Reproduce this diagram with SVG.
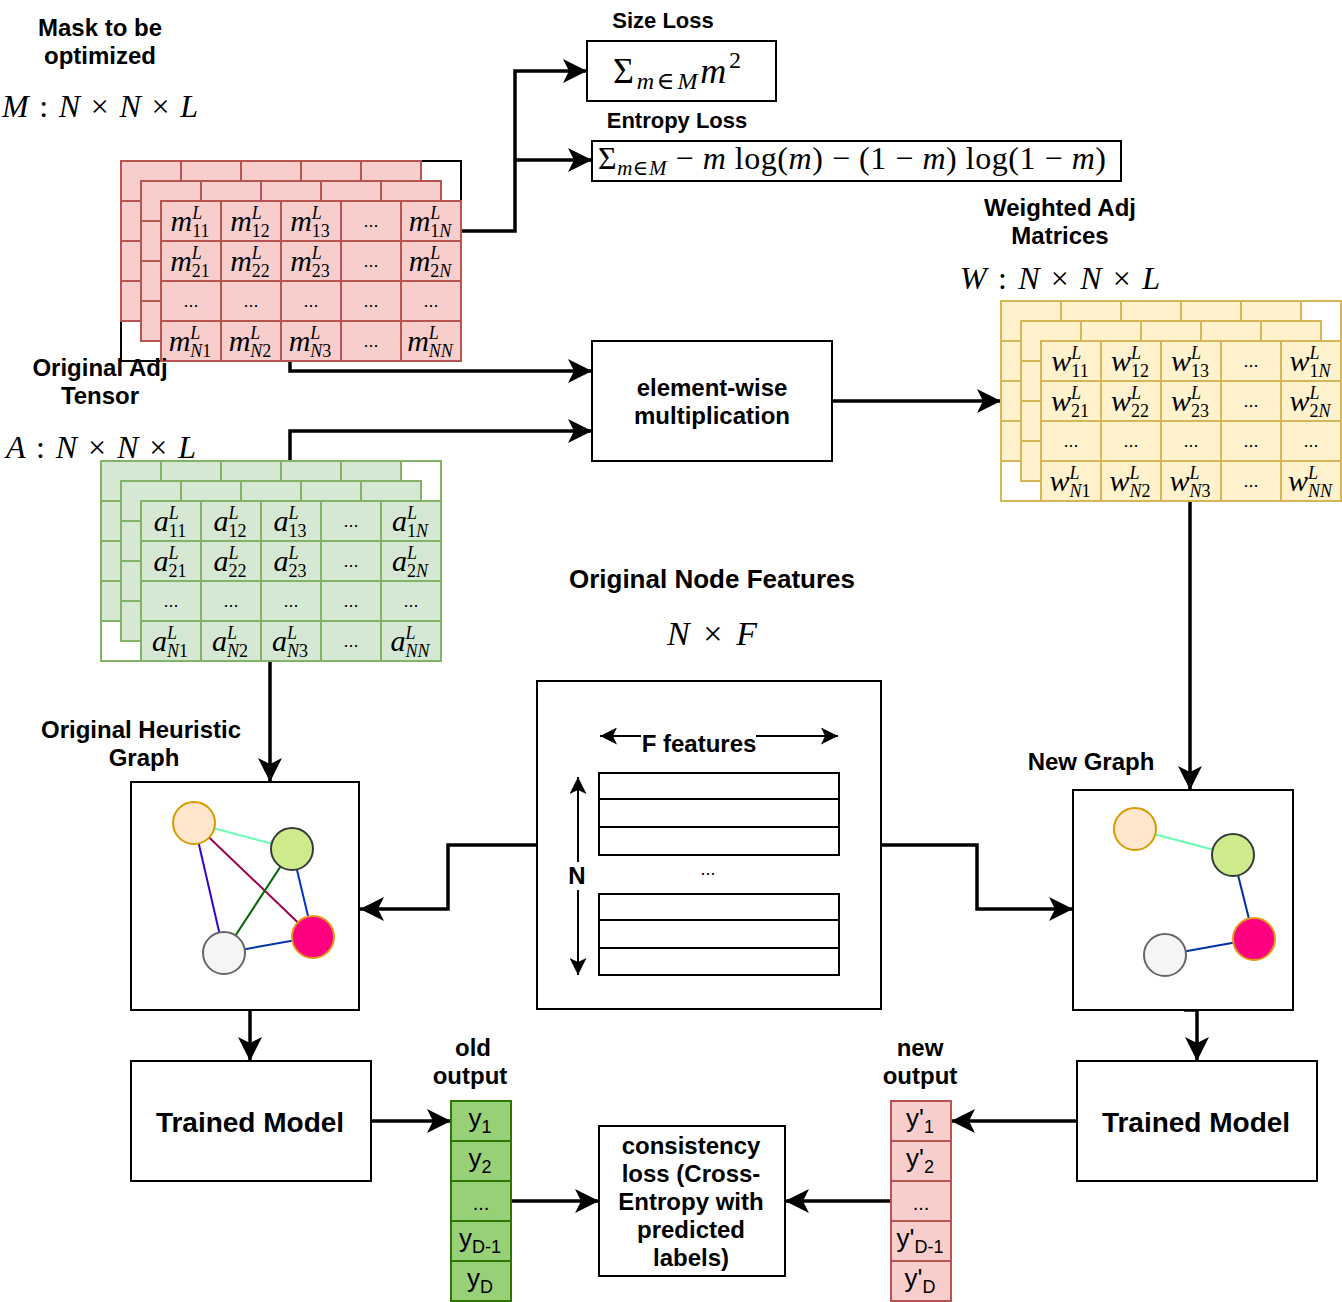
<svg xmlns="http://www.w3.org/2000/svg" xmlns:xlink="http://www.w3.org/1999/xlink" width="1342" height="1302" viewBox="0 0 1342 1302">
<style>
.lbl{font-family:"Liberation Sans",Arial,sans-serif;font-weight:bold;font-size:24px;text-anchor:middle;fill:#000}
.mi{font-family:"Liberation Serif","DejaVu Serif",serif;font-style:italic;font-size:30px;text-anchor:middle;fill:#000}
.mt{font-family:"Liberation Serif","DejaVu Serif",serif;font-style:italic;font-size:32px;fill:#000}
.up{font-style:normal}
.sp{font-size:18px}
.sb{font-size:18px;font-style:normal}
.dots{font-family:"Liberation Sans",Arial,sans-serif;font-size:18px;text-anchor:middle;fill:#000}
.box{fill:#fff;stroke:#000;stroke-width:2}
.conn{fill:none;stroke:#000;stroke-width:3.5}
.thin{fill:none;stroke:#000;stroke-width:2}
.out{font-family:"Liberation Sans",Arial,sans-serif;font-size:26px;text-anchor:middle;fill:#000}
.os{font-size:18px}
.edge{stroke-width:2;fill:none}
.nd{stroke-width:2}
</style>
<defs>
<g id="grid">
<rect x="0" y="0" width="300" height="160"/>
<path d="M60,0V160M120,0V160M180,0V160M240,0V160M0,40H300M0,80H300M0,120H300" fill="none"/>
</g>
<marker id="ah" markerUnits="userSpaceOnUse" markerWidth="24" markerHeight="24" refX="24" refY="12" orient="auto">
<path d="M0,0 L24,12 L0,24 L6,12 Z" fill="#000"/>
</marker>
<marker id="ahs" markerUnits="userSpaceOnUse" markerWidth="17" markerHeight="17" refX="17" refY="8.5" orient="auto">
<path d="M0,0 L17,8.5 L0,17 L4,8.5 Z" fill="#000"/>
</marker>
</defs>

<!-- connectors -->
<g id="connectors">
<path class="conn" d="M461,231 H515 V71 H587" marker-end="url(#ah)"/>
<path class="conn" d="M515,160 H592" marker-end="url(#ah)"/>
<path class="conn" d="M290,361 V371 H592" marker-end="url(#ah)"/>
<path class="conn" d="M290,461 V431 H592" marker-end="url(#ah)"/>
<path class="conn" d="M832,401 H1001" marker-end="url(#ah)"/>
<path class="conn" d="M1190,501 V790" marker-end="url(#ah)"/>
<path class="conn" d="M270,661 V782" marker-end="url(#ah)"/>
<path class="conn" d="M537,845 H448 V909 H360" marker-end="url(#ah)"/>
<path class="conn" d="M881,845 H977 V909 H1073" marker-end="url(#ah)"/>
<path class="conn" d="M250,1010 V1061" marker-end="url(#ah)"/>
<path class="conn" d="M1184,1010 H1197 V1061" marker-end="url(#ah)"/>
<path class="conn" d="M371,1121 H451" marker-end="url(#ah)"/>
<path class="conn" d="M1077,1121 H951" marker-end="url(#ah)"/>
<path class="conn" d="M511,1201 H599" marker-end="url(#ah)"/>
<path class="conn" d="M891,1201 H785" marker-end="url(#ah)"/>
</g>

<!-- Mask -->
<g id="mask">
<text class="lbl" x="100" y="36">Mask to be</text>
<text class="lbl" x="100" y="64">optimized</text>
<text class="mt" x="2" y="117" textLength="196" lengthAdjust="spacing">M <tspan class="up">:</tspan> N <tspan class="up">×</tspan> N <tspan class="up">×</tspan> L</text>
<rect x="121" y="161" width="340" height="200" fill="#fff" stroke="#000" stroke-width="2"/>
<use xlink:href="#grid" x="121" y="161" fill="#f8cecc" stroke="#b85450" stroke-width="2"/>
<use xlink:href="#grid" x="141" y="181" fill="#f8cecc" stroke="#b85450" stroke-width="2"/>
<use xlink:href="#grid" x="161" y="201" fill="#f8cecc" stroke="#b85450" stroke-width="2"/>
<text class="mi" x="190" y="231">m<tspan class="sp" dy="-12">L</tspan><tspan class="sb" dx="-10" dy="18">11</tspan></text>
<text class="mi" x="250" y="231">m<tspan class="sp" dy="-12">L</tspan><tspan class="sb" dx="-10" dy="18">12</tspan></text>
<text class="mi" x="310" y="231">m<tspan class="sp" dy="-12">L</tspan><tspan class="sb" dx="-10" dy="18">13</tspan></text>
<text class="dots" x="371" y="227">...</text>
<text class="mi" x="430" y="231">m<tspan class="sp" dy="-12">L</tspan><tspan class="sb" dx="-10" dy="18">1</tspan><tspan class="sp">N</tspan></text>
<text class="mi" x="190" y="271">m<tspan class="sp" dy="-12">L</tspan><tspan class="sb" dx="-10" dy="18">21</tspan></text>
<text class="mi" x="250" y="271">m<tspan class="sp" dy="-12">L</tspan><tspan class="sb" dx="-10" dy="18">22</tspan></text>
<text class="mi" x="310" y="271">m<tspan class="sp" dy="-12">L</tspan><tspan class="sb" dx="-10" dy="18">23</tspan></text>
<text class="dots" x="371" y="267">...</text>
<text class="mi" x="430" y="271">m<tspan class="sp" dy="-12">L</tspan><tspan class="sb" dx="-10" dy="18">2</tspan><tspan class="sp">N</tspan></text>
<text class="dots" x="191" y="307">...</text>
<text class="dots" x="251" y="307">...</text>
<text class="dots" x="311" y="307">...</text>
<text class="dots" x="371" y="307">...</text>
<text class="dots" x="431" y="307">...</text>
<text class="mi" x="190" y="351">m<tspan class="sp" dy="-12">L</tspan><tspan class="sp" dx="-10" dy="18">N</tspan><tspan class="sb">1</tspan></text>
<text class="mi" x="250" y="351">m<tspan class="sp" dy="-12">L</tspan><tspan class="sp" dx="-10" dy="18">N</tspan><tspan class="sb">2</tspan></text>
<text class="mi" x="310" y="351">m<tspan class="sp" dy="-12">L</tspan><tspan class="sp" dx="-10" dy="18">N</tspan><tspan class="sb">3</tspan></text>
<text class="dots" x="371" y="347">...</text>
<text class="mi" x="430" y="351">m<tspan class="sp" dy="-12">L</tspan><tspan class="sp" dx="-10" dy="18">NN</tspan></text>
</g>

<!-- Loss boxes -->
<g id="size-loss">
<text class="lbl" x="663" y="28" style="font-size:22px">Size Loss</text>
<rect class="box" x="587" y="41" width="189" height="60"/>
<text class="mt" x="613" y="83" style="font-size:36px" textLength="128" lengthAdjust="spacing"><tspan class="up">Σ</tspan><tspan style="font-size:24px" dy="6">m<tspan class="up">∈</tspan>M</tspan><tspan dy="-6">m</tspan><tspan class="up" style="font-size:24px" dy="-15">2</tspan></text>
</g>
<g id="entropy-loss">
<text class="lbl" x="677" y="128" style="font-size:22px">Entropy Loss</text>
<rect class="box" x="592" y="141" width="529" height="40"/>
<text class="mt" x="598" y="169" textLength="508" lengthAdjust="spacing"><tspan class="up">Σ</tspan><tspan style="font-size:21px" dy="6">m<tspan class="up">∈</tspan>M</tspan><tspan class="up" dy="-6"> − </tspan>m<tspan class="up"> log(</tspan>m<tspan class="up">) − (1 − </tspan>m<tspan class="up">) log(1 − </tspan>m<tspan class="up">)</tspan></text>
</g>

<!-- Original Adj Tensor -->
<g id="adj">
<text class="lbl" x="100" y="376">Original Adj</text>
<text class="lbl" x="100" y="404">Tensor</text>
<text class="mt" x="6" y="458" textLength="190" lengthAdjust="spacing">A <tspan class="up">:</tspan> N <tspan class="up">×</tspan> N <tspan class="up">×</tspan> L</text>
<rect x="101" y="461" width="340" height="200" fill="#fff" stroke="#82b366" stroke-width="2"/>
<use xlink:href="#grid" x="101" y="461" fill="#d5e8d4" stroke="#82b366" stroke-width="2"/>
<use xlink:href="#grid" x="121" y="481" fill="#d5e8d4" stroke="#82b366" stroke-width="2"/>
<use xlink:href="#grid" x="141" y="501" fill="#d5e8d4" stroke="#82b366" stroke-width="2"/>
<text class="mi" x="170" y="531">a<tspan class="sp" dy="-12">L</tspan><tspan class="sb" dx="-10" dy="18">11</tspan></text>
<text class="mi" x="230" y="531">a<tspan class="sp" dy="-12">L</tspan><tspan class="sb" dx="-10" dy="18">12</tspan></text>
<text class="mi" x="290" y="531">a<tspan class="sp" dy="-12">L</tspan><tspan class="sb" dx="-10" dy="18">13</tspan></text>
<text class="dots" x="351" y="527">...</text>
<text class="mi" x="410" y="531">a<tspan class="sp" dy="-12">L</tspan><tspan class="sb" dx="-10" dy="18">1</tspan><tspan class="sp">N</tspan></text>
<text class="mi" x="170" y="571">a<tspan class="sp" dy="-12">L</tspan><tspan class="sb" dx="-10" dy="18">21</tspan></text>
<text class="mi" x="230" y="571">a<tspan class="sp" dy="-12">L</tspan><tspan class="sb" dx="-10" dy="18">22</tspan></text>
<text class="mi" x="290" y="571">a<tspan class="sp" dy="-12">L</tspan><tspan class="sb" dx="-10" dy="18">23</tspan></text>
<text class="dots" x="351" y="567">...</text>
<text class="mi" x="410" y="571">a<tspan class="sp" dy="-12">L</tspan><tspan class="sb" dx="-10" dy="18">2</tspan><tspan class="sp">N</tspan></text>
<text class="dots" x="171" y="607">...</text>
<text class="dots" x="231" y="607">...</text>
<text class="dots" x="291" y="607">...</text>
<text class="dots" x="351" y="607">...</text>
<text class="dots" x="411" y="607">...</text>
<text class="mi" x="170" y="651">a<tspan class="sp" dy="-12">L</tspan><tspan class="sp" dx="-10" dy="18">N</tspan><tspan class="sb">1</tspan></text>
<text class="mi" x="230" y="651">a<tspan class="sp" dy="-12">L</tspan><tspan class="sp" dx="-10" dy="18">N</tspan><tspan class="sb">2</tspan></text>
<text class="mi" x="290" y="651">a<tspan class="sp" dy="-12">L</tspan><tspan class="sp" dx="-10" dy="18">N</tspan><tspan class="sb">3</tspan></text>
<text class="dots" x="351" y="647">...</text>
<text class="mi" x="410" y="651">a<tspan class="sp" dy="-12">L</tspan><tspan class="sp" dx="-10" dy="18">NN</tspan></text>
</g>

<!-- element-wise multiplication -->
<g id="mult">
<rect class="box" x="592" y="341" width="240" height="120"/>
<text class="lbl" x="712" y="396">element-wise</text>
<text class="lbl" x="712" y="424">multiplication</text>
</g>

<!-- Weighted Adj -->
<g id="weighted">
<text class="lbl" x="1060" y="216">Weighted Adj</text>
<text class="lbl" x="1060" y="244">Matrices</text>
<text class="mt" x="960" y="289" textLength="200" lengthAdjust="spacing">W <tspan class="up">:</tspan> N <tspan class="up">×</tspan> N <tspan class="up">×</tspan> L</text>
<rect x="1001" y="301" width="340" height="200" fill="#fff" stroke="#d6b656" stroke-width="2"/>
<use xlink:href="#grid" x="1001" y="301" fill="#fff2cc" stroke="#d6b656" stroke-width="2"/>
<use xlink:href="#grid" x="1021" y="321" fill="#fff2cc" stroke="#d6b656" stroke-width="2"/>
<use xlink:href="#grid" x="1041" y="341" fill="#fff2cc" stroke="#d6b656" stroke-width="2"/>
<text class="mi" x="1070" y="371">w<tspan class="sp" dy="-12">L</tspan><tspan class="sb" dx="-10" dy="18">11</tspan></text>
<text class="mi" x="1130" y="371">w<tspan class="sp" dy="-12">L</tspan><tspan class="sb" dx="-10" dy="18">12</tspan></text>
<text class="mi" x="1190" y="371">w<tspan class="sp" dy="-12">L</tspan><tspan class="sb" dx="-10" dy="18">13</tspan></text>
<text class="dots" x="1251" y="367">...</text>
<text class="mi" x="1310" y="371">w<tspan class="sp" dy="-12">L</tspan><tspan class="sb" dx="-10" dy="18">1</tspan><tspan class="sp">N</tspan></text>
<text class="mi" x="1070" y="411">w<tspan class="sp" dy="-12">L</tspan><tspan class="sb" dx="-10" dy="18">21</tspan></text>
<text class="mi" x="1130" y="411">w<tspan class="sp" dy="-12">L</tspan><tspan class="sb" dx="-10" dy="18">22</tspan></text>
<text class="mi" x="1190" y="411">w<tspan class="sp" dy="-12">L</tspan><tspan class="sb" dx="-10" dy="18">23</tspan></text>
<text class="dots" x="1251" y="407">...</text>
<text class="mi" x="1310" y="411">w<tspan class="sp" dy="-12">L</tspan><tspan class="sb" dx="-10" dy="18">2</tspan><tspan class="sp">N</tspan></text>
<text class="dots" x="1071" y="447">...</text>
<text class="dots" x="1131" y="447">...</text>
<text class="dots" x="1191" y="447">...</text>
<text class="dots" x="1251" y="447">...</text>
<text class="dots" x="1311" y="447">...</text>
<text class="mi" x="1070" y="491">w<tspan class="sp" dy="-12">L</tspan><tspan class="sp" dx="-10" dy="18">N</tspan><tspan class="sb">1</tspan></text>
<text class="mi" x="1130" y="491">w<tspan class="sp" dy="-12">L</tspan><tspan class="sp" dx="-10" dy="18">N</tspan><tspan class="sb">2</tspan></text>
<text class="mi" x="1190" y="491">w<tspan class="sp" dy="-12">L</tspan><tspan class="sp" dx="-10" dy="18">N</tspan><tspan class="sb">3</tspan></text>
<text class="dots" x="1251" y="487">...</text>
<text class="mi" x="1310" y="491">w<tspan class="sp" dy="-12">L</tspan><tspan class="sp" dx="-10" dy="18">NN</tspan></text>
</g>

<!-- Node features -->
<g id="node-features">
<text class="lbl" x="712" y="588" style="font-size:26px">Original Node Features</text>
<text class="mt" x="667" y="645" style="font-size:34px" textLength="90" lengthAdjust="spacing">N <tspan class="up">×</tspan> F</text>
<rect class="box" x="537" y="681" width="344" height="328"/>
<path class="thin" d="M641,736 H600" marker-end="url(#ahs)"/>
<path class="thin" d="M756,736 H838" marker-end="url(#ahs)"/>
<text class="lbl" x="699" y="752">F features</text>
<path class="thin" d="M578,862 V777" marker-end="url(#ahs)"/>
<path class="thin" d="M578,890 V975" marker-end="url(#ahs)"/>
<text class="lbl" x="577" y="884">N</text>
<rect class="thin" x="599" y="773" width="240" height="26"/>
<rect class="thin" x="599" y="799" width="240" height="28"/>
<rect class="thin" x="599" y="827" width="240" height="28"/>
<text class="dots" x="708" y="875">...</text>
<rect class="thin" x="599" y="894" width="240" height="26"/>
<rect class="thin" x="599" y="920" width="240" height="28"/>
<rect class="thin" x="599" y="948" width="240" height="27"/>
</g>

<!-- Original heuristic graph -->
<g id="heuristic-graph">
<text class="lbl" x="141" y="738">Original Heuristic</text>
<text class="lbl" x="144" y="766">Graph</text>
<rect class="box" x="131" y="782" width="228" height="228"/>
<line class="edge" x1="194" y1="823" x2="292" y2="849" stroke="#66ffb2"/>
<line class="edge" x1="194" y1="823" x2="313" y2="937" stroke="#99004d"/>
<line class="edge" x1="194" y1="823" x2="224" y2="953" stroke="#3300cc"/>
<line class="edge" x1="292" y1="849" x2="224" y2="953" stroke="#006600"/>
<line class="edge" x1="292" y1="849" x2="313" y2="937" stroke="#0033cc"/>
<line class="edge" x1="224" y1="953" x2="313" y2="937" stroke="#0033aa"/>
<circle class="nd" cx="194" cy="823" r="21" fill="#ffe6cc" stroke="#d79b00"/>
<circle class="nd" cx="292" cy="849" r="21" fill="#cdeb8b" stroke="#36393d"/>
<circle class="nd" cx="313" cy="937" r="21" fill="#ff0080" stroke="#e09a1a"/>
<circle class="nd" cx="224" cy="953" r="21" fill="#f5f5f5" stroke="#666666"/>
</g>

<!-- New graph -->
<g id="new-graph">
<text class="lbl" x="1091" y="770">New Graph</text>
<rect class="box" x="1073" y="790" width="220" height="220"/>
<line class="edge" x1="1135" y1="829" x2="1233" y2="855" stroke="#66ffb2"/>
<line class="edge" x1="1233" y1="855" x2="1254" y2="939" stroke="#0033aa"/>
<line class="edge" x1="1165" y1="955" x2="1254" y2="939" stroke="#0033aa"/>
<circle class="nd" cx="1135" cy="829" r="21" fill="#ffe6cc" stroke="#d79b00"/>
<circle class="nd" cx="1233" cy="855" r="21" fill="#cdeb8b" stroke="#36393d"/>
<circle class="nd" cx="1254" cy="939" r="21" fill="#ff0080" stroke="#e09a1a"/>
<circle class="nd" cx="1165" cy="955" r="21" fill="#f5f5f5" stroke="#666666"/>
</g>

<!-- Trained models -->
<g id="trained-model-left">
<rect class="box" x="131" y="1061" width="240" height="120"/>
<text class="lbl" x="250" y="1132" style="font-size:28px">Trained Model</text>
</g>
<g id="trained-model-right">
<rect class="box" x="1077" y="1061" width="240" height="120"/>
<text class="lbl" x="1196" y="1132" style="font-size:28px">Trained Model</text>
</g>

<!-- old output -->
<g id="old-output">
<text class="lbl" x="473" y="1056">old</text>
<text class="lbl" x="470" y="1084">output</text>
<g fill="#97d077" stroke="#2d7600" stroke-width="2">
<rect x="451" y="1101" width="60" height="40"/>
<rect x="451" y="1141" width="60" height="40"/>
<rect x="451" y="1181" width="60" height="40"/>
<rect x="451" y="1221" width="60" height="40"/>
<rect x="451" y="1261" width="60" height="40"/>
</g>
<text class="out" x="480" y="1127">y<tspan class="os" dy="6">1</tspan></text>
<text class="out" x="480" y="1167">y<tspan class="os" dy="6">2</tspan></text>
<text class="out" x="481" y="1210" style="font-size:20px">...</text>
<text class="out" x="480" y="1247">y<tspan class="os" dy="6">D-1</tspan></text>
<text class="out" x="480" y="1287">y<tspan class="os" dy="6">D</tspan></text>
</g>

<!-- new output -->
<g id="new-output">
<text class="lbl" x="920" y="1056">new</text>
<text class="lbl" x="920" y="1084">output</text>
<g fill="#f8cecc" stroke="#b85450" stroke-width="2">
<rect x="891" y="1101" width="60" height="40"/>
<rect x="891" y="1141" width="60" height="40"/>
<rect x="891" y="1181" width="60" height="40"/>
<rect x="891" y="1221" width="60" height="40"/>
<rect x="891" y="1261" width="60" height="40"/>
</g>
<text class="out" x="920" y="1127">y'<tspan class="os" dy="6">1</tspan></text>
<text class="out" x="920" y="1167">y'<tspan class="os" dy="6">2</tspan></text>
<text class="out" x="921" y="1210" style="font-size:20px">...</text>
<text class="out" x="920" y="1247">y'<tspan class="os" dy="6">D-1</tspan></text>
<text class="out" x="920" y="1287">y'<tspan class="os" dy="6">D</tspan></text>
</g>

<!-- consistency loss -->
<g id="consistency">
<rect class="box" x="599" y="1126" width="186" height="150"/>
<text class="lbl" x="691" y="1154">consistency</text>
<text class="lbl" x="691" y="1182">loss (Cross-</text>
<text class="lbl" x="691" y="1210">Entropy with</text>
<text class="lbl" x="691" y="1238">predicted</text>
<text class="lbl" x="691" y="1266">labels)</text>
</g>
</svg>
